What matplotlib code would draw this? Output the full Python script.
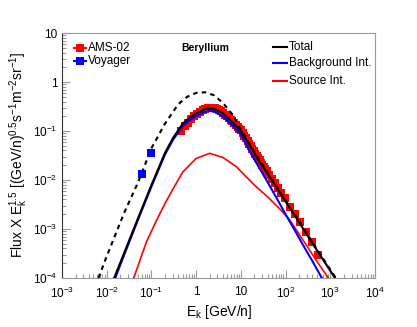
import numpy as np
import matplotlib
matplotlib.use('Agg')
from matplotlib import pyplot as plt

plt.rcParams['font.family'] = ['Liberation Sans', 'DejaVu Sans']
plt.rcParams['mathtext.fontset'] = 'custom'
plt.rcParams['mathtext.rm'] = 'Liberation Sans'
plt.rcParams['mathtext.it'] = 'Liberation Sans:italic'
plt.rcParams['mathtext.bf'] = 'Liberation Sans:bold'

# MODELO - flujo x Ek^1.5
total_E = [0.0146, 0.02, 0.05, 0.1, 0.2, 0.3, 0.5, 0.63, 1.0, 1.6, 2.0, 2.5, 4, 6.3,
           10, 16, 25, 40, 63, 100, 160, 250, 400, 630, 1000, 1280]
total_F = [1e-4, 2.04e-4, 1.66e-3, 7.9e-3, 0.0355, 0.0708, 0.141, 0.17, 0.229, 0.279,
           0.288, 0.285, 0.229, 0.155, 0.1, 0.05, 0.0251, 0.0132, 7.1e-3, 3.63e-3,
           1.9e-3, 1e-3, 5.1e-4, 2.7e-4, 1.41e-4, 1e-4]

bkg_E = [0.0155, 0.02, 0.05, 0.1, 0.2, 0.3, 0.5, 0.63, 1.0, 1.6, 2.0, 2.5, 4, 6.3,
         10, 16, 25, 40, 63, 100, 160, 250, 400, 650]
bkg_F = [1e-4, 1.85e-4, 1.55e-3, 7.4e-3, 0.033, 0.065, 0.127, 0.152, 0.203, 0.245,
         0.255, 0.25, 0.198, 0.133, 0.085, 0.038, 0.0186, 8.9e-3, 4.3e-3, 2e-3,
         9.5e-4, 4.6e-4, 2.2e-4, 1e-4]

src_E = [0.04, 0.078, 0.13, 0.2, 0.31, 0.5, 1.0, 2.0, 4, 8, 10, 20, 40, 80, 126,
         200, 316, 500, 910]
src_F = [1e-4, 5.6e-4, 1.5e-3, 3.3e-3, 6.8e-3, 0.0145, 0.0275, 0.035, 0.0287, 0.0186,
         0.015, 7.9e-3, 4.5e-3, 2.4e-3, 1.5e-3, 7.9e-4, 4.2e-4, 2.2e-4, 1e-4]

# LIS (sin modular)
lis_E = [0.0065, 0.01, 0.025, 0.05, 0.1, 0.2, 0.4, 0.63, 1.0, 1.6, 2.5, 4, 6.3, 10,
         20, 50, 100, 200, 500, 1500]
lis_F = [1e-4, 2.8e-4, 2.24e-3, 8.9e-3, 0.0447, 0.141, 0.355, 0.5, 0.6, 0.617, 0.537,
         0.372, 0.224, 0.107, 0.0372, 0.0102, 0.0038, 1.45e-3, 3.9e-4, 8.5e-5]

# DATOS
ams_E = [0.46, 0.55, 0.65, 0.77, 0.90, 1.05, 1.21, 1.39, 1.59, 1.81, 2.05, 2.31, 2.60,
         2.91, 3.25, 3.62, 4.02, 4.45, 4.92, 5.42, 5.94, 6.5, 7.1, 7.8, 8.5, 9.3, 10.1,
         11.0, 12.0, 13.0, 14.1, 15.3, 16.5, 17.9, 19.3, 20.9, 22.5, 24.3, 26.2, 28.2,
         30.4, 32.8, 35.3, 38.0, 42.5, 49, 57, 67, 79, 95, 126, 162, 209, 288, 385, 542]
ams_F = [0.102, 0.126, 0.148, 0.174, 0.2, 0.224, 0.248, 0.266, 0.282, 0.288, 0.292,
         0.292, 0.288, 0.279, 0.266, 0.251, 0.234, 0.216, 0.2, 0.184, 0.17, 0.157,
         0.145, 0.133, 0.123, 0.112, 0.1035, 0.091, 0.0794, 0.0708, 0.063, 0.055,
         0.049, 0.0437, 0.0389, 0.0347, 0.0309, 0.0275, 0.0251, 0.0226, 0.0204,
         0.0184, 0.0166, 0.015, 0.0129, 0.0106, 0.0086, 0.0069, 0.0055, 0.0042,
         0.00282, 0.002, 0.00138, 8.7e-4, 5.4e-4, 2.9e-4]

voy_E = [0.061, 0.096]
voy_F = [0.0135, 0.0356]

fig = plt.figure(figsize=(4.17, 3.27), dpi=100)
ax = fig.add_axes([0.149, 0.150, 0.750, 0.749])

ax.plot(ams_E, ams_F, 's', color='red', ms=5.3, mew=0, zorder=2)
ax.plot(lis_E, lis_F, color='black', lw=1.5, ls=(0, (2.2, 2)), zorder=3)
ax.plot(src_E, src_F, color='red', lw=1.2, zorder=3)
ax.plot(bkg_E, bkg_F, color='blue', lw=1.5, zorder=4)
ax.plot(total_E, total_F, color='black', lw=1.5, zorder=5)
voy_err = [np.array(voy_E) * 0.13, np.array(voy_E) * 0.13]
ax.errorbar(voy_E, voy_F, xerr=voy_err, fmt='s', color='blue', ms=5.3, mew=0,
            elinewidth=2.8, capsize=0, zorder=6)

ax.set_xscale('log')
ax.set_yscale('log')
ax.set_xlim(1e-3, 1e4)
ax.set_ylim(1e-4, 10)

ax.set_xticks([1e-3, 1e-2, 1e-1, 1, 10, 1e2, 1e3, 1e4])
ax.set_xticklabels([r'$10^{-3}$', r'$10^{-2}$', r'$10^{-1}$', '1', '10',
                    r'$10^{2}$', r'$10^{3}$', r'$10^{4}$'])
ax.set_yticks([1e-4, 1e-3, 1e-2, 1e-1, 1, 10])
ax.set_yticklabels([r'$10^{-4}$', r'$10^{-3}$', r'$10^{-2}$', r'$10^{-1}$', '1', '10'])
ax.tick_params(which='both', direction='in', color='#999999', labelsize=8.5,
               top=False, right=False)
ax.tick_params(which='major', length=6, width=0.8)
ax.tick_params(which='minor', length=3, width=0.8)
ax.tick_params(axis='x', pad=6)
for s in ['top', 'right', 'bottom']:
    ax.spines[s].set_color('#999999')
ax.spines['left'].set_color('#333333')

fig.text(0.525, 0.045, r'E$_{\mathrm{k}}$ [GeV/n]', ha='center', va='center', fontsize=10)
fig.text(0.046, 0.526, r'Flux X E$_{\mathrm{k}}^{1.5}$ [(GeV/n)$^{0.5}$s$^{-1}$m$^{-2}$sr$^{-1}$]',
         ha='center', va='center', rotation=90, fontsize=10)

# leyendas
tr = ax.transAxes
ax.plot([0.038, 0.077], [0.939, 0.939], color='red', lw=1.5, transform=tr, clip_on=False)
ax.plot([0.0575], [0.939], 's', color='red', ms=5.3, mew=0, transform=tr, clip_on=False)
ax.text(0.083, 0.939, 'AMS-02', fontsize=8.5, va='center', transform=tr)
ax.plot([0.038, 0.077], [0.886, 0.886], color='blue', lw=1.5, transform=tr, clip_on=False)
ax.plot([0.0575], [0.886], 's', color='blue', ms=5.3, mew=0, transform=tr, clip_on=False)
ax.text(0.083, 0.886, 'Voyager', fontsize=8.5, va='center', transform=tr)

ax.text(0.457, 0.939, 'Beryllium', fontsize=7.5, fontweight='bold', ha='center',
        va='center', transform=tr)

labels2 = ['Total', 'Background Int.', 'Source Int.']
colors2 = ['black', 'blue', 'red']
ys2 = [0.943, 0.878, 0.804]
for lab, c, yy in zip(labels2, colors2, ys2):
    ax.plot([0.674, 0.719], [yy, yy], color=c, lw=1.5, transform=tr)
    ax.text(0.725, yy, lab, fontsize=8.5, va='center', transform=tr)

fig.savefig('out.png', dpi=100)
